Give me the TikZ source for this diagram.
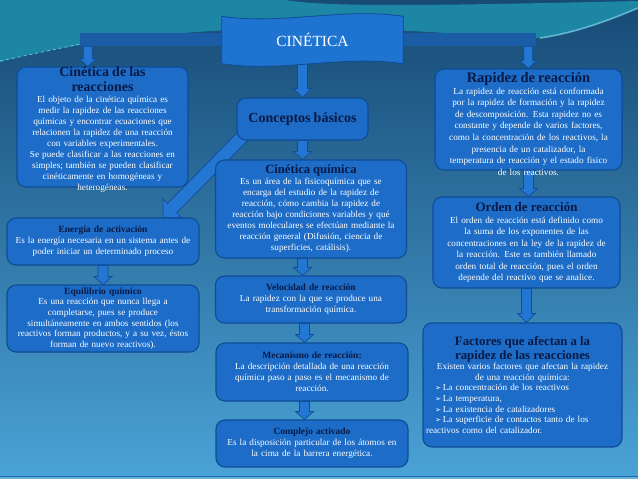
\documentclass[tikz,border=0pt]{standalone}
\usepackage{fontspec}
\setmainfont{Liberation Serif}
\newfontfamily\dvsans{DejaVu Sans}
\usetikzlibrary{calc}
\pgfdeclarelayer{bg}
\pgfdeclarelayer{mid}
\pgfsetlayers{bg,mid,main}
\definecolor{boxfill}{HTML}{1C6CC8}
\definecolor{boxedge}{HTML}{0F4C96}
\definecolor{arrfill}{HTML}{2376D2}
\definecolor{barfill}{HTML}{1B5CA6}
\definecolor{bannerfill}{HTML}{1F74D2}
\definecolor{navy}{HTML}{0A1A44}
\definecolor{bgtop}{HTML}{174A75}
\definecolor{bgmid}{HTML}{2E7CB2}
\definecolor{bgbot}{HTML}{4AA3D6}
\definecolor{tealA}{HTML}{1C86A4}
\definecolor{hilite}{HTML}{7FD6E8}
\newcommand\ttl[2]{\fontsize{#1}{#2}\selectfont\bfseries\color{navy}}
\newcommand\ttlB{\fontsize{9.5}{11}\selectfont\bfseries\color{navy}}
\newcommand\bodyf{\fontsize{9.2}{11}\selectfont}
\newcommand\bul{{\dvsans\fontsize{7.5}{7}\selectfont\char"27A2}}
\newcommand\lline[1]{\makebox[193pt][l]{#1}}
% block arrow: start, end, shaft half width, head half width, head length
\newcommand\blockarrow[5]{%
  \coordinate (ba) at #1;
  \coordinate (bb) at #2;
  \coordinate (bh) at ($(bb)!#5!(ba)$);
  \draw[arr] ($(ba)!#3!90:(bb)$) -- ($(bh)!#3!90:(bb)$) -- ($(bh)!#4!90:(bb)$)
    -- (bb) -- ($(bh)!#4!-90:(bb)$) -- ($(bh)!#3!-90:(bb)$) -- ($(ba)!#3!-90:(bb)$) -- cycle;
}
\begin{document}
\begin{tikzpicture}[x=1pt,y=-1pt,
  box/.style={rounded corners=9pt, fill=boxfill, draw=boxedge, line width=1.1pt,
    align=center, inner xsep=3pt, inner ysep=1pt, text=white, font=\bodyf},
  boxtext/.style={align=center, inner sep=0pt, text=white, font=\bodyf},
  arr/.style={fill=arrfill, draw=boxedge, line width=0.7pt, line join=miter},
  barst/.style={fill=barfill, draw=none, inner sep=0pt},
  bannerst/.style={fill=bannerfill, draw=boxedge, line width=0.8pt},
]
\useasboundingbox (0,0) rectangle (638,479);
\begin{pgfonlayer}{bg}
  \shade[top color=bgtop, middle color=bgmid, bottom color=bgbot] (0,0) rectangle (638,479);
  \fill[tealA] (0,0) -- (285,0) .. controls (330,7) and (420,6) .. (638,1) -- (638,8)
    .. controls (610,20) and (575,33) .. (540,38)
    .. controls (480,36) and (420,30) .. (330,28)
    .. controls (200,27) and (80,40) .. (0,62) -- cycle;
  \draw[hilite, line width=1.6pt, opacity=0.7] (540,38) .. controls (575,33) and (610,20) .. (638,8);
  \draw[hilite, dashed, line width=0.8pt, opacity=0.8] (0,61) -- (80,44);
  \draw[color=boxedge!70!bgbot, line width=0.8pt] (0,476.5) -- (638,476.5);
  \fill[bgbot!85!white] (0,477) rectangle (638,479);
\end{pgfonlayer}

% ---------- boxes ----------
\node (cin) [minimum width=181pt, minimum height=47pt, inner sep=0pt, text=white,
  font=\fontsize{15.5}{17}\selectfont] at (312.5,40) {CINÉTICA};

\node[box, minimum width=171pt, minimum height=120pt] (cr) at (102.5,127) {};
\node[boxtext, text width=165pt] (crtxt) at (102.5,129.5) {%
{\ttl{14}{15}Cinética de las\\reacciones\par}
El objeto de la cinética química es\\
medir la rapidez de las reacciones\\
químicas y encontrar ecuaciones que\\
relacionen la rapidez de una reacción\\
con variables experimentales.\\
Se puede clasificar a las reacciones en\\
simples; también se pueden clasificar\\
cinéticamente en homogéneas y\\
heterogéneas.};

\node[box, text width=186pt, minimum height=47pt] (en) at (103,241.5) {%
{\ttlB Energía de activación\par}
Es la energía necesaria en un sistema antes de\\
poder iniciar un determinado proceso};

\node[box, text width=186pt, minimum height=67pt, font=\fontsize{9.2}{10.6}\selectfont] (eq) at (103,318.5) {%
{\ttlB Equilibrio químico\par}
Es una reacción que nunca llega a\\
completarse, pues se produce\\
simultáneamente en ambos sentidos (los\\
reactivos forman productos, y a su vez, éstos\\
forman de nuevo reactivos).};

\node[box, text width=125pt, minimum height=42pt] (cb) at (302.5,119) {{\ttl{14}{16}Conceptos básicos}};

\node[box, text width=185pt, minimum height=98pt] (cq) at (311,209) {%
{\ttl{12.6}{14}Cinética química\par}
Es un área de la fisicoquímica que se\\
encarga del estudio de la rapidez de\\
reacción, cómo cambia la rapidez de\\
reacción bajo condiciones variables y qué\\
eventos moleculares se efectúan mediante la\\
reacción general (Difusión, ciencia de\\
superficies, catálisis).};

\node[box, text width=185pt, minimum height=47pt] (vel) at (311,299.5) {%
{\ttlB Velocidad de reacción\par}
La rapidez con la que se produce una\\
transformación química.};

\node[box, text width=186pt, minimum height=58pt] (mec) at (312,372) {%
{\ttlB Mecanismo de reacción:\par}
La descripción detallada de una reacción\\
química paso a paso es el mecanismo de\\
reacción.};

\node[box, text width=186pt, minimum height=47pt] (comp) at (312,443.5) {%
{\ttlB Complejo activado\par}
Es la disposición particular de los átomos en\\
la cima de la barrera energética.};

\node[box, minimum width=187pt, minimum height=101pt] (rap) at (528.5,119.5) {};
\node[boxtext, text width=181pt, font=\fontsize{9.2}{11.6}\selectfont] (raptxt) at (528.5,124) {%
{\ttl{14.5}{16}Rapidez de reacción\par}
La rapidez de reacción está conformada\\
por la rapidez de formación y la rapidez\\
de descomposición. Esta rapidez no es\\
constante y depende de varios factores,\\
como la concentración de los reactivos, la\\
presencia de un catalizador, la\\
temperatura de reacción y el estado fisico\\
de los reactivos.};

\node[box, text width=181pt, minimum height=91pt,
  font=\fontsize{9.2}{11.5}\selectfont] (ord) at (526.5,242.5) {%
{\ttl{13}{15}Orden de reacción\par}
El orden de reacción está definido como\\
la suma de los exponentes de las\\
concentraciones en la ley de la rapidez de\\
la reacción. Este es también llamado\\
orden total de reacción, pues el orden\\
depende del reactivo que se analice.};

\node[box, text width=193pt, minimum height=124pt, inner xsep=3pt,
  font=\fontsize{9.2}{10.6}\selectfont] (fac) at (522.5,385) {%
{\ttl{12.8}{13.5}Factores que afectan a la\\rapidez de las reacciones\par}
Existen varios factores que afectan la rapidez\\
de una reacción química:\\
\lline{\hspace*{9pt}\bul\,La concentración de los reactivos}\\
\lline{\hspace*{9pt}\bul\,La temperatura,}\\
\lline{\hspace*{9pt}\bul\,La existencia de catalizadores}\\
\lline{\hspace*{9pt}\bul\,La superficie de contactos tanto de los}\\
\lline{reactivos como del catalizador.}};

% ---------- connectors ----------
\begin{pgfonlayer}{mid}
  \node[barst, minimum width=456pt, minimum height=13pt] (bar) at (308,39.5) {};
  \coordinate (bl) at ($(bar.south west)+(8,0)$);
  \coordinate (br) at ($(bar.south east)+(-8,0)$);
  \blockarrow{(bl)}{(bl |- cr.north)}{4.5pt}{8.5pt}{8pt}
  \blockarrow{(br)}{(br |- rap.north)}{4.5pt}{8.5pt}{8pt}
  \blockarrow{($(cb.north |- cin.south)+(0,-6)$)}{(cb.north)}{5pt}{9pt}{9pt}
  \blockarrow{(cb.south)}{(cb.south |- cq.north)}{5pt}{9pt}{8pt}
  \blockarrow{(cb.south |- cq.south)}{(cb.south |- vel.north)}{5pt}{9pt}{8pt}
  \blockarrow{($(cb.south |- vel.south)+(2,0)$)}{($(cb.south |- mec.north)+(2,0)$)}{5pt}{9pt}{8pt}
  \blockarrow{($(cb.south |- mec.south)+(2,0)$)}{($(cb.south |- comp.north)+(2,0)$)}{5pt}{9pt}{8pt}
  \blockarrow{(rap.south)}{(rap.south |- ord.north)}{5pt}{9pt}{8pt}
  \blockarrow{(ord.south)}{(ord.south |- fac.north)}{5pt}{9pt}{9pt}
  \blockarrow{(en.south)}{(en.south |- eq.north)}{5pt}{9pt}{8pt}
  \blockarrow{($(cb.south west)+(8,-6)$)}{($(en.north)+(60,0)$)}{6.5pt}{13pt}{13pt}
  \draw[bannerst] (cin.north west) .. controls +(60,9) and +(-61,-9) .. (cin.north east)
    -- (cin.south east) .. controls +(-61,-9) and +(60,9) .. (cin.south west) -- cycle;
\end{pgfonlayer}
\end{tikzpicture}
\end{document}
